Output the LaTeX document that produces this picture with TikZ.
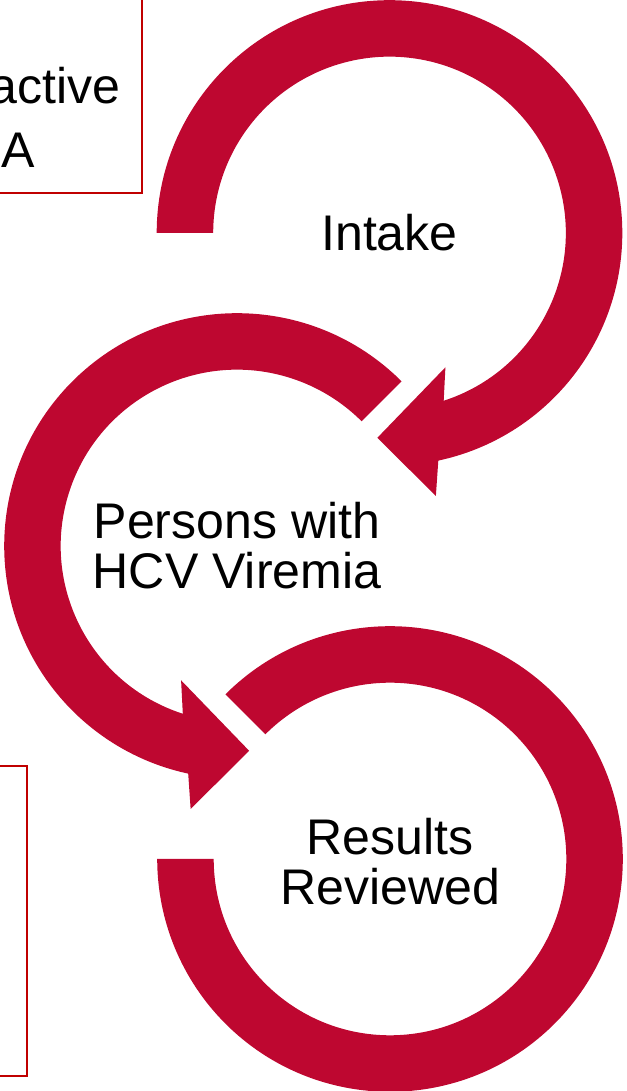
\documentclass[tikz,border=0pt]{standalone}
\usepackage{fontspec}
\setmainfont{Liberation Sans}
\usetikzlibrary{calc}
\definecolor{ringred}{RGB}{190,7,48}
\definecolor{boxred}{RGB}{192,0,0}
\begin{document}
\begin{tikzpicture}[x=0.02cm, y=0.02cm,
		ring/.style={fill=ringred},
		boxline/.style={draw=boxred, line width=1pt},
		ringtext/.style={font=\fontsize{28.5}{28.45}\selectfont, align=center, inner sep=0pt}]
		\useasboundingbox (0,0) rectangle (626,1091);
		\clip (0,0) rectangle (626,1091);
		\coordinate (c1) at (389.5,858);
		\coordinate (c2) at (237,545);
		\coordinate (c3) at (390,232);
		%Boksene til venstre
		\draw [boxline] (-10,1101) rectangle (142.3,898.3);
		\draw [boxline] (-10,325) rectangle (27,15.3);
		\node [ringtext, anchor=base east] (active) at (121,987) {active};
		\node [ringtext, anchor=base west] (a) at (1,923) {A};
		%Pil 1
		\fill [ring] (c1) ++(180:232.8) arc[start angle=180, end angle=-77.9, radius=232.8]
			-- ($(c1)+(-80:267)$) -- ($(c1)+(-93.4:205.2)$) -- ($(c1)+(-67.4:145.5)$)
			-- ($(c1)+(-72.1:176.3)$) arc[start angle=-72.1, end angle=180, radius=176.3] -- cycle;
		%Pil 2
		\fill [ring] (c2) ++(45:232.8) arc[start angle=45, end angle=257.9, radius=232.8]
			-- ($(c2)+(260:267)$) -- ($(c2)+(273.4:205.2)$) -- ($(c2)+(247.4:145.5)$)
			-- ($(c2)+(252.1:176.3)$) arc[start angle=252.1, end angle=45, radius=176.3] -- cycle;
		%Bue 3
		\fill [ring] (c3) ++(135:232.8) arc[start angle=135, end angle=-180, radius=232.8]
			-- ++(56.5,0) arc[start angle=-180, end angle=135, radius=176.3] -- cycle;
		\node [ringtext] (intake) at (c1) {Intake};
		\node [ringtext] (persons) at (c2) {Persons with\\HCV Viremia};
		\node [ringtext] (results) at (390,229) {Results\\Reviewed};
	\end{tikzpicture}
\end{document}
